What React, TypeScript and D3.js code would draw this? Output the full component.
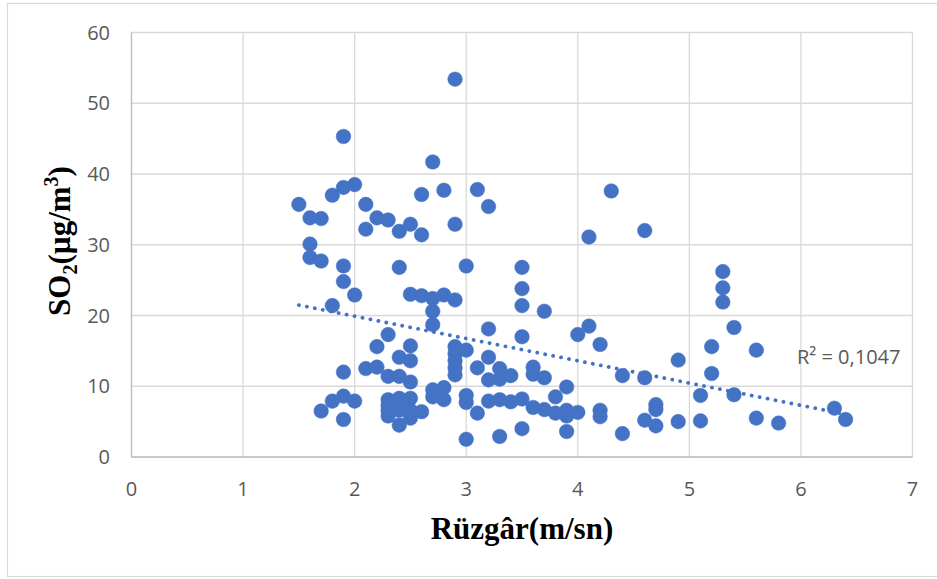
import React from "react";
import * as d3 from "d3";

const windSpeed: number[] = [
  1.5,
  1.6, 1.6, 1.6,
  1.7, 1.7, 1.7,
  1.8, 1.8, 1.8,
  1.9, 1.9, 1.9, 1.9, 1.9, 1.9, 1.9,
  2.0, 2.0, 2.0,
  2.1, 2.1, 2.1,
  2.2, 2.2, 2.2,
  2.3, 2.3, 2.3, 2.3, 2.3, 2.3, 2.3,
  2.4, 2.4, 2.4, 2.4, 2.4, 2.4, 2.4, 2.4,
  2.5, 2.5, 2.5, 2.5, 2.5, 2.5, 2.5, 2.5,
  2.6, 2.6, 2.6, 2.6,
  2.7, 2.7, 2.7, 2.7, 2.7, 2.7,
  2.8, 2.8, 2.8, 2.8,
  2.9, 2.9, 2.9, 2.9, 2.9, 2.9, 2.9, 2.9,
  3.0, 3.0, 3.0, 3.0, 3.0,
  3.1, 3.1, 3.1,
  3.2, 3.2, 3.2, 3.2, 3.2,
  3.3, 3.3, 3.3, 3.3,
  3.4, 3.4,
  3.5, 3.5, 3.5, 3.5, 3.5, 3.5,
  3.6, 3.6, 3.6,
  3.7, 3.7, 3.7,
  3.8, 3.8,
  3.9, 3.9, 3.9, 3.9,
  4.0, 4.0,
  4.1, 4.1,
  4.2, 4.2, 4.2,
  4.3,
  4.4, 4.4,
  4.6, 4.6, 4.6,
  4.7, 4.7, 4.7,
  4.9, 4.9,
  5.1, 5.1,
  5.2, 5.2,
  5.3, 5.3, 5.3,
  5.4, 5.4,
  5.6, 5.6,
  5.8,
  6.3,
  6.4,
];

const so2: number[] = [
  35.7,
  33.8, 30.1, 28.2,
  33.7, 27.7, 6.5,
  37.0, 21.4, 7.9,
  45.3, 38.1, 27.0, 24.8, 12.0, 8.6, 5.3,
  38.5, 22.9, 7.9,
  35.7, 32.2, 12.5,
  33.8, 15.6, 12.7,
  33.5, 17.3, 11.4, 8.1, 7.3, 6.6, 5.8,
  31.9, 26.8, 14.1, 11.4, 8.3, 7.3, 6.6, 4.5,
  32.9, 23.0, 15.7, 13.6, 10.6, 8.3, 6.6, 5.5,
  37.1, 31.4, 22.8, 6.4,
  41.7, 22.4, 20.6, 18.7, 9.5, 8.5,
  37.7, 22.9, 9.8, 8.1,
  53.4, 32.9, 22.2, 15.6, 14.6, 13.6, 12.6, 11.6,
  27.0, 15.1, 8.7, 7.7, 2.5,
  37.8, 12.6, 6.2,
  35.4, 18.1, 14.1, 10.9, 7.9,
  12.5, 11.0, 8.1, 2.9,
  11.5, 7.8,
  26.8, 23.8, 21.4, 17.0, 8.2, 4.0,
  12.7, 11.7, 7.0,
  20.6, 11.2, 6.7,
  8.5, 6.2,
  9.9, 6.6, 5.8, 3.6,
  17.3, 6.3,
  31.1, 18.5,
  15.9, 6.6, 5.7,
  37.6,
  11.5, 3.3,
  32.0, 11.2, 5.2,
  7.4, 6.7, 4.4,
  13.7, 5.0,
  8.7, 5.1,
  15.6, 11.8,
  26.2, 23.9, 21.9,
  18.3, 8.8,
  15.1, 5.5,
  4.8,
  6.9,
  5.3,
];

const xTicks: number[] = [0, 1, 2, 3, 4, 5, 6, 7];
const yTicks: number[] = [0, 10, 20, 30, 40, 50, 60];

// linear trendline
const trendIntercept = 26.2;
const trendSlope = -3.15;
const rSquaredLabel = "R² = 0,1047";

export default function App() {
  const W = 937;
  const H = 579;
  const x = d3.scaleLinear().domain([0, 7]).range([131.5, 912.5]);
  const y = d3.scaleLinear().domain([0, 60]).range([457, 32.5]);

  const points = windSpeed.map((w, i) => ({ w, s: so2[i] }));
  const xMin = d3.min(windSpeed) as number;
  const xMax = d3.max(windSpeed) as number;
  const trendData = [xMin, xMax].map((v) => ({ w: v, s: trendIntercept + trendSlope * v }));
  const line = d3
    .line<{ w: number; s: number }>()
    .x((d) => x(d.w))
    .y((d) => y(d.s));

  const tickFont = "'Open Sans', 'Noto Sans', sans-serif";
  const titleFont = "'Liberation Serif', 'Times New Roman', serif";

  return (
    <svg
      width={W}
      height={H}
      style={{ position: "absolute", left: 0, top: 0, background: "#fff" }}
    >
      <rect x={0} y={0} width={W} height={H} fill="#fff" />
      <rect x={7.5} y={3.5} width={950} height={573} fill="#fff" stroke="#d9d9d9" strokeWidth={1.2} />

      {/* gridlines */}
      {yTicks.map((t) => (
        <line key={"gy" + t} x1={x(0)} x2={x(7)} y1={y(t)} y2={y(t)} stroke="#d9d9d9" strokeWidth={1.3} />
      ))}
      {xTicks.map((t) => (
        <line key={"gx" + t} x1={x(t)} x2={x(t)} y1={y(0)} y2={y(60)} stroke="#d9d9d9" strokeWidth={1.3} />
      ))}
      <line x1={x(0)} x2={x(0)} y1={y(0)} y2={y(60)} stroke="#bfbfbf" strokeWidth={1.3} />
      <line x1={x(0)} x2={x(7)} y1={y(0)} y2={y(0)} stroke="#bfbfbf" strokeWidth={1.3} />

      {/* tick labels */}
      {yTicks.map((t) => (
        <text
          key={"ty" + t}
          x={110}
          y={y(t)}
          dy="0.36em"
          textAnchor="end"
          fontFamily={tickFont}
          fontSize={20}
          fill="#595959"
        >
          {t}
        </text>
      ))}
      {xTicks.map((t) => (
        <text
          key={"tx" + t}
          x={x(t)}
          y={496}
          textAnchor="middle"
          fontFamily={tickFont}
          fontSize={20}
          fill="#595959"
        >
          {t}
        </text>
      ))}

      {/* points */}
      {points.map((p, i) => (
        <circle key={"p" + i} cx={x(p.w)} cy={y(p.s)} r={7.3} fill="#4472c4" stroke="#4472c4" strokeWidth={0.5} />
      ))}

      {/* trendline */}
      <path
        d={line(trendData) || ""}
        fill="none"
        stroke="#4472c4"
        strokeWidth={3.8}
        strokeDasharray="0.1 8"
        strokeLinecap="round"
      />

      <text x={797} y={364} fontFamily={tickFont} fontSize={20} fill="#595959">
        {rSquaredLabel}
      </text>

      {/* axis titles */}
      <text
        x={522}
        y={539}
        textAnchor="middle"
        fontFamily={titleFont}
        fontWeight="bold"
        fontSize={31}
        fill="#000"
      >
        Rüzgâr(m/sn)
      </text>
      <text
        transform="translate(70,241) rotate(-90)"
        textAnchor="middle"
        fontFamily={titleFont}
        fontWeight="bold"
        fontSize={31}
        fill="#000"
      >
        SO<tspan fontSize={20} dy={7}>2</tspan>
        <tspan dy={-7}>(µg/m</tspan>
        <tspan fontSize={20} dy={-12}>3</tspan>
        <tspan dy={12}>)</tspan>
      </text>
    </svg>
  );
}
